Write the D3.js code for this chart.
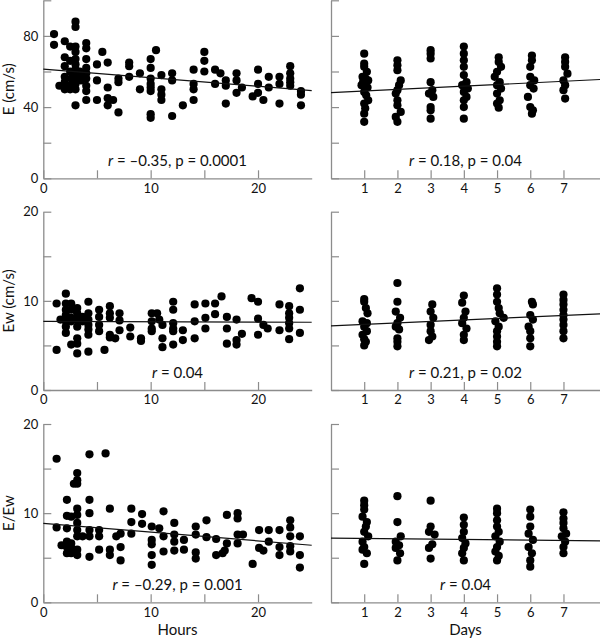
<!DOCTYPE html>
<html>
<head>
<meta charset="utf-8">
<script src="https://cdn.jsdelivr.net/npm/d3@7"></script>
<style>
body { margin: 0; background: #fff; }
text { font-family: Lato, "Noto Sans", sans-serif; }
</style>
</head>
<body>
<svg width="600" height="639"></svg>
<script>
// E (cm/s) against hours
var eHours = [[1.0,81],[1.0,75],[1.5,52],[2.0,77],[2.0,68],[2.0,63],[2.0,57],[2.0,54],[2.0,50],[2.2,52],[2.5,74],[2.5,66],[2.5,60],[2.6,56],[2.5,52],[2.5,50],
  [3.0,88],[3.0,85],[3.0,74],[3.0,71],[3.0,67],[3.0,64],[3.0,61],[3.0,58],[3.0,56],[3.0,53],[3.0,50],[3.0,41],[3.4,60],[3.5,57],[3.5,55],
  [4.0,76],[4.0,73],[4.0,67],[4.0,62],[4.0,59],[4.0,56],[4.0,52],[4.0,49],[4.0,44],[5.0,64],[5.0,55],[5.0,44],[5.5,71],[6.0,65],[6.0,51],[6.0,45],[6.0,41],[6.5,44],
  [7.0,56],[7.0,54],[7.0,37],[8.0,65],[8.0,63],[8.0,57],[9.0,59],[9.0,50],[10.0,67],[10.0,62],[10.0,56],[10.0,53],[10.0,51],[10.0,49],[10.0,36],[10.0,34],[10.5,72],
  [11.0,58],[11.0,50],[11.0,47],[11.0,44],[12.0,59],[12.0,55],[12.0,35],[13.0,41],[14.0,61],[14.0,53],[14.0,50],[14.0,44],[15.0,71],[15.0,66],[15.0,60],
  [16.0,61],[16.0,53],[16.5,59],[17.0,55],[17.0,52],[17.0,42],[18.0,59],[18.0,55],[18.0,48],[18.5,51],[19.5,46],[20.0,61],[20.0,53],[20.0,48],[20.5,44],
  [21.0,57],[21.0,51],[22.0,57],[22.0,53],[22.0,42],[23.0,63],[23.0,59],[23.0,56],[23.0,54],[23.0,52],[24.0,49],[24.0,47],[24.0,41]];
var eHoursFit = [[0,61.3],[25,49.3]];

// E (cm/s) against days
var eDays = [[1.0,70],[1.0,64.4],[1.0,62.6],[1.08,59.8],[0.95,57],[1.12,55],[1.0,53.6],[0.92,52.3],[1.1,51],[1.04,56],[0.97,54.5],[1.0,48.5],[1.06,46.6],[1.12,43.8],[1.0,42],[1.03,39.3],[1.0,36.3],[1.0,31.7],
  [2.0,66.3],[2.0,63.5],[2.0,60.7],[2.1,55],[2.05,52.3],[2.0,49.5],[1.95,47.6],[2.0,43.8],[2.0,41],[2.1,37.3],[1.95,34.5],[2.0,31.7],
  [3.0,72],[3.0,70],[3.0,67.3],[3.0,54],[3.05,49.5],[2.95,47.6],[3.08,45.7],[3.0,40],[3.0,38.2],[3.0,33.5],
  [4.0,74],[4.0,70],[4.0,66.3],[4.0,62.6],[4.0,58],[4.08,54],[3.95,52.3],[4.12,50.4],[4.0,48.5],[4.08,45.7],[4.0,43.8],[4.0,40],[4.0,33.5],
  [5.05,68],[5.05,65.4],[5.12,62.6],[5.0,59.8],[4.93,57],[5.08,54],[5.0,52.3],[5.12,50.4],[5.0,47.6],[5.08,43.8],[5.0,42],[5.05,39.7],
  [6.05,69],[6.05,66.3],[6.0,62.6],[6.0,57],[6.12,55],[6.0,52.3],[6.1,50.4],[5.93,45.7],[6.0,40],[6.08,38.2],[6.05,36.3],
  [7.05,68],[7.05,65.4],[7.05,62.6],[7.12,58.8],[7.0,55],[7.05,52.3],[7.0,49.5],[7.05,44.8]];
var eDaysFit = [[0,48.1],[8.1,55.5]];

// Ew (cm/s) against hours
var ewHours = [[1.24,9.7],[1.24,4.5],[1.6,7.9],[2.1,10.8],[2.1,9.7],[2.1,9.0],[2.1,8.4],[2.1,7.7],[2.1,7.1],[2.1,6.4],[2.6,9.7],[2.6,9.0],[2.6,8.1],[2.6,7.7],[2.6,5.1],
  [3.16,9.2],[3.16,8.6],[3.16,7.9],[3.16,7.1],[3.16,5.8],[3.16,5.2],[3.16,4.1],[3.66,8.2],[3.66,7.7],[4.2,9.9],[4.2,8.6],[4.2,7.9],[4.2,7.3],[4.2,6.8],[4.2,6.2],[4.2,4.3],
  [5.2,9.0],[5.2,8.2],[5.2,7.3],[5.2,6.6],[5.7,4.5],[6.2,9.4],[6.2,8.6],[6.2,8.1],[6.2,6.2],[6.2,5.9],[6.7,5.8],[7.1,8.6],[7.1,7.8],[7.1,6.7],[8.1,7.0],[8.1,6.0],
  [9.1,5.8],[9.1,5.5],[10.1,8.6],[10.1,7.7],[10.1,6.9],[10.1,6.6],[10.6,8.6],[10.8,7.9],[11.1,7.3],[11.1,5.8],[11.1,4.8],[12.1,9.9],[12.1,9.0],[12.1,7.5],[12.1,6.9],[12.1,6.6],[12.1,5.1],
  [13.0,6.7],[13.0,5.6],[14.1,9.6],[14.1,7.7],[14.1,5.8],[15.1,9.7],[15.1,8.1],[15.1,6.9],[16.0,9.7],[16.0,8.5],[16.6,10.5],[17.1,8.2],[17.1,6.9],[17.1,5.2],
  [18.0,7.9],[18.0,5.6],[18.0,5.1],[18.5,6.3],[19.4,10.3],[20.0,9.9],[20.0,8.0],[20.0,6.2],[20.5,7.3],[20.9,6.9],[22.0,9.6],[22.0,6.7],
  [22.9,9.4],[22.9,8.6],[22.9,8.1],[22.9,7.5],[22.9,6.9],[22.9,5.7],[23.9,11.4],[23.9,9.0],[23.9,6.4]];
var ewHoursFit = [[0,7.7],[25,7.6]];

// Ew (cm/s) against days
var ewDays = [[1.0,10.2],[1.0,9.9],[1.05,9.2],[1.1,8.6],[0.95,7.7],[1.08,7.5],[1.0,7.1],[1.08,6.6],[0.95,6.2],[1.0,5.7],[1.05,5.4],[1.0,5.0],
  [2.0,12.0],[2.0,9.9],[1.95,8.8],[2.08,8.1],[2.0,7.5],[1.95,7.1],[2.05,6.8],[2.0,5.8],[2.0,5.4],[2.0,4.9],
  [3.05,9.6],[3.0,8.8],[3.08,8.1],[3.0,7.3],[3.0,6.6],[3.05,6.0],[2.95,5.6],
  [4.0,10.6],[3.95,9.8],[4.05,8.8],[4.0,8.1],[3.95,7.5],[4.08,6.9],[4.0,6.2],[4.0,5.6],
  [5.0,11.4],[5.0,10.7],[5.0,9.9],[5.05,9.2],[5.08,8.6],[5.2,8.1],[4.95,7.7],[5.05,7.1],[5.0,6.6],[5.0,6.0],[5.0,5.4],[5.0,4.9],
  [6.05,9.9],[6.08,9.6],[6.0,8.4],[6.08,7.9],[5.95,7.1],[6.0,6.6],[6.0,5.8],[6.0,4.9],
  [7.0,10.7],[7.0,10.1],[7.0,9.6],[7.0,9.0],[7.0,8.4],[7.0,7.9],[7.0,7.3],[7.0,6.6],[7.0,5.8]];
var ewDaysFit = [[0,7.2],[8.1,8.55]];

// E/Ew against hours
var ratioHours = [[1.24,16.1],[1.24,8.4],[1.7,6.4],[2.2,11.5],[2.2,9.7],[2.2,8.3],[2.2,6.8],[2.2,6.2],[2.2,5.5],[2.6,9.6],[2.6,6.6],[2.6,6.1],[2.6,5.5],[2.85,13.3],
  [3.16,14.5],[3.16,13.7],[3.16,13.3],[3.16,10.5],[3.16,9.8],[3.16,8.9],[3.16,8.1],[3.16,7.4],[3.16,5.9],[3.16,5.3],[3.66,7.4],
  [4.3,16.6],[4.3,11.5],[4.3,10.0],[4.3,8.1],[4.3,7.4],[4.3,5.1],[5.2,8.1],[5.2,7.4],[5.2,5.9],[5.8,16.7],[6.2,10.5],[6.2,5.9],[6.2,5.3],[6.8,7.4],
  [7.2,7.7],[7.2,6.2],[7.2,4.7],[8.2,10.5],[8.2,9.0],[8.2,7.7],[9.2,9.9],[9.2,8.8],[10.1,8.5],[10.1,7.0],[10.1,6.5],[10.1,5.3],[10.1,4.2],[10.8,8.3],
  [11.2,10.2],[11.2,7.4],[11.2,5.7],[12.2,8.9],[12.2,7.6],[12.2,6.8],[12.2,5.8],[13.1,7.0],[13.1,5.9],[14.2,8.5],[14.2,7.6],[14.2,5.6],[14.2,4.9],
  [15.2,9.2],[15.2,7.3],[16.1,7.1],[16.1,5.3],[16.7,5.5],[16.9,5.8],[17.1,9.8],[17.1,6.6],[18.1,10.0],[18.1,9.4],[18.1,7.6],[18.1,6.6],[18.6,7.6],
  [19.5,4.3],[20.1,8.1],[20.1,6.1],[20.5,5.8],[21.0,8.1],[21.0,6.8],[22.0,8.1],[22.0,6.2],[22.0,5.3],
  [23.0,9.2],[23.0,8.4],[23.0,7.4],[23.0,6.3],[23.0,5.7],[23.9,7.4],[23.9,5.3],[23.9,3.9]];
var ratioHoursFit = [[0,8.86],[25,6.4]];

// E/Ew against days
var ratioDays = [[1.0,11.4],[1.0,10.9],[1.0,10.4],[0.95,9.6],[1.08,9.0],[1.05,8.5],[1.0,7.9],[1.12,7.4],[0.95,6.8],[1.0,6.2],[0.95,5.9],[1.08,5.5],[1.0,4.3],
  [2.0,11.9],[2.0,9.0],[2.1,7.4],[1.95,6.8],[2.05,6.4],[1.95,6.1],[2.08,5.5],[2.0,4.7],
  [3.0,11.4],[3.0,8.5],[2.95,7.9],[3.12,7.6],[3.05,6.5],[2.95,6.1],[3.0,4.9],
  [4.0,9.5],[4.0,8.7],[4.0,7.9],[3.95,7.2],[4.05,6.6],[4.0,6.1],[3.95,5.5],[4.0,4.7],
  [5.0,10.5],[5.0,10.0],[5.0,9.2],[5.0,8.5],[5.05,7.9],[4.95,7.4],[5.08,6.8],[5.0,6.2],[4.95,5.7],[5.05,5.2],[5.0,4.7],
  [6.0,10.4],[6.0,9.6],[6.0,8.5],[5.95,7.7],[6.08,7.0],[5.95,6.2],[6.05,5.5],[6.0,4.7],[6.0,4.0],
  [7.0,10.1],[7.0,9.4],[7.0,8.9],[7.0,8.3],[7.08,7.7],[6.95,7.4],[7.05,6.8],[7.0,6.2],[7.0,5.5]];
var ratioDaysFit = [[0,7.2],[8.1,6.9]];

var hourTicks = [0, 5, 10, 15, 20], hourLabels = [0, 10, 20];
var dayTicks = [1, 2, 3, 4, 5, 6, 7];
var eTicks = [0, 20, 40, 60, 80, 100], eLabels = [0, 40, 80];
var smallTicks = [0, 5, 10, 15, 20], smallLabels = [0, 10, 20];

var rowLabels = ["E (cm/s)", "Ew (cm/s)", "E/Ew"];
var stats = [["r", " = \u20130.35, p = 0.0001"], ["r", " = 0.18, p = 0.04"],
             ["r", " = 0.04"], ["r", " = 0.21, p = 0.02"],
             ["r", " = \u20130.29, p = 0.001"], ["r", " = 0.04"]];

var svg = d3.select("svg");
var axisGrey = "#8c8c8c";

var xHours = d3.scaleLinear().domain([0, 25]).range([43.3, 311.7]);
var xDays = d3.scaleLinear().domain([0, 8.1]).range([331, 600]);

var rows = [
  {y: d3.scaleLinear().domain([0, 100]).range([178.3, 0.3]), ticks: eTicks, labels: eLabels,
   left: eHours, leftFit: eHoursFit, right: eDays, rightFit: eDaysFit},
  {y: d3.scaleLinear().domain([0, 20]).range([390, 211.7]), ticks: smallTicks, labels: smallLabels,
   left: ewHours, leftFit: ewHoursFit, right: ewDays, rightFit: ewDaysFit},
  {y: d3.scaleLinear().domain([0, 20]).range([602.3, 424]), ticks: smallTicks, labels: smallLabels,
   left: ratioHours, leftFit: ratioHoursFit, right: ratioDays, rightFit: ratioDaysFit}
];

function styleAxis(g) {
  g.select(".domain").attr("stroke", axisGrey).attr("stroke-width", 1.3);
  g.selectAll(".tick line").attr("stroke", axisGrey).attr("stroke-width", 1.2);
  g.selectAll(".tick text").attr("fill", "#111").style("font-size", "13px");
}

function drawPanel(x, y, row, pts, fit, xTicks, xLabels, yLabels, stat) {
  var x0 = x.range()[0], y0 = y.range()[0];

  var gx = svg.append("g").attr("transform", "translate(0," + y0 + ")")
    .call(d3.axisBottom(x).tickValues(xTicks).tickSize(-8).tickSizeOuter(0).tickPadding(5)
      .tickFormat(function(d) { return xLabels.indexOf(d) >= 0 ? d : ""; }));
  styleAxis(gx);

  var gy = svg.append("g").attr("transform", "translate(" + x0 + ",0)")
    .call(d3.axisLeft(y).tickValues(row.ticks).tickSize(-8).tickSizeOuter(0).tickPadding(5)
      .tickFormat(function(d) { return yLabels.indexOf(d) >= 0 ? d : ""; }));
  styleAxis(gy);

  svg.append("g").selectAll("circle")
    .data(pts)
    .enter().append("circle")
    .attr("cx", function(d) { return x(d[0]); })
    .attr("cy", function(d) { return y(d[1]); })
    .attr("r", 4.1)
    .attr("fill", "#000");

  svg.append("path")
    .datum(fit)
    .attr("fill", "none")
    .attr("stroke", "#111")
    .attr("stroke-width", 1.2)
    .attr("d", d3.line().x(function(d) { return x(d[0]); }).y(function(d) { return y(d[1]); }));

  var t = svg.append("text")
    .attr("x", (x.range()[0] + x.range()[1]) / 2)
    .attr("y", y0 - 12)
    .attr("text-anchor", "middle")
    .style("font-size", "15px")
    .attr("fill", "#111");
  t.append("tspan").style("font-style", "italic").text(stat[0]);
  t.append("tspan").text(stat[1]);
}

rows.forEach(function(row, i) {
  drawPanel(xHours, row.y, row, row.left, row.leftFit, hourTicks, hourLabels, row.labels, stats[i * 2]);
  drawPanel(xDays, row.y, row, row.right, row.rightFit, dayTicks, dayTicks, [], stats[i * 2 + 1]);

  var mid = (row.y.range()[0] + row.y.range()[1]) / 2;
  svg.append("text")
    .attr("transform", "translate(14," + mid + ") rotate(-90)")
    .attr("text-anchor", "middle")
    .style("font-size", "15px")
    .attr("fill", "#111")
    .text(rowLabels[i]);
});

svg.append("text")
  .attr("x", (xHours.range()[0] + xHours.range()[1]) / 2)
  .attr("y", 635)
  .attr("text-anchor", "middle")
  .style("font-size", "15px")
  .attr("fill", "#111")
  .text("Hours");

svg.append("text")
  .attr("x", (xDays.range()[0] + xDays.range()[1]) / 2)
  .attr("y", 635)
  .attr("text-anchor", "middle")
  .style("font-size", "15px")
  .attr("fill", "#111")
  .text("Days");
</script>
</body>
</html>
